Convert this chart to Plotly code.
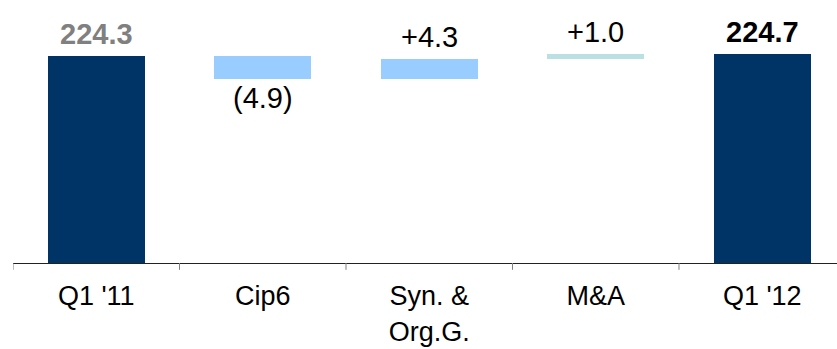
import plotly.graph_objects as go

# Bridge from Q1 '11 to Q1 '12
categories = ["Q1 '11", "Cip6", "Syn. &<br>Org.G.", "M&A", "Q1 '12"]
values = [224.3, -4.9, 4.3, 1.0, 224.7]
kinds = ["total", "delta", "delta", "delta", "total"]
bar_colors = ["#003366", "#99CCFF", "#99CCFF", "#BBE0E3", "#003366"]
label_colors = ["#808080", "#000000", "#000000", "#000000", "#000000"]

AXIS_FLOOR = 180.2   # truncated value axis
AXIS_TOP = 236.3
FONT = "Liberation Sans, Arial, sans-serif"

bases, heights, tops, bottoms = [], [], [], []
running = 0.0
for v, k in zip(values, kinds):
    if k == "total":
        running = v
        b, h = AXIS_FLOOR, v - AXIS_FLOOR
    else:
        b = running if v >= 0 else running + v
        h = abs(v)
        running += v
    bases.append(b)
    heights.append(h)
    tops.append(b + h)
    bottoms.append(b)

x_idx = list(range(len(categories)))

fig = go.Figure(
    go.Bar(
        x=x_idx,
        y=heights,
        base=bases,
        width=0.58,
        marker=dict(color=bar_colors, line=dict(width=0)),
        hoverinfo="skip",
    )
)

def fmt(v, k):
    if k == "total":
        return f"{v:.1f}"
    if v < 0:
        return f"({abs(v):.1f})"
    return f"+{v:.1f}"

for i, (v, k) in enumerate(zip(values, kinds)):
    txt = fmt(v, k)
    if k == "total":
        txt = f"<b>{txt}</b>"
    if v < 0:
        fig.add_annotation(x=i, y=bottoms[i], text=txt, showarrow=False,
                           yanchor="top", yshift=-1,
                           font=dict(family=FONT, size=29, color=label_colors[i]))
    else:
        fig.add_annotation(x=i, y=tops[i], text=txt, showarrow=False,
                           yanchor="bottom", yshift=4,
                           font=dict(family=FONT, size=29, color=label_colors[i]))

# boundary tick marks between categories, hanging below the axis line
for i in range(len(categories) + 1):
    fig.add_shape(type="line", xref="x", yref="paper",
                  x0=i - 0.5, x1=i - 0.5, y0=0, y1=-0.026,
                  line=dict(color="#808080", width=1))

fig.update_layout(
    width=837,
    height=349,
    margin=dict(l=13, r=0, t=0, b=86),
    paper_bgcolor="white",
    plot_bgcolor="white",
    showlegend=False,
    bargap=0,
    xaxis=dict(
        type="linear",
        range=[-0.5, 4.449],
        tickmode="array",
        tickvals=x_idx,
        ticktext=categories,
        ticks="outside",
        ticklen=9,
        tickcolor="rgba(0,0,0,0)",
        showline=True,
        linecolor="#222222",
        linewidth=1,
        showgrid=False,
        zeroline=False,
        tickfont=dict(family=FONT, size=27, color="#000000"),
        fixedrange=True,
    ),
    yaxis=dict(range=[AXIS_FLOOR, AXIS_TOP], visible=False, fixedrange=True),
)

fig.write_html("out.html")
